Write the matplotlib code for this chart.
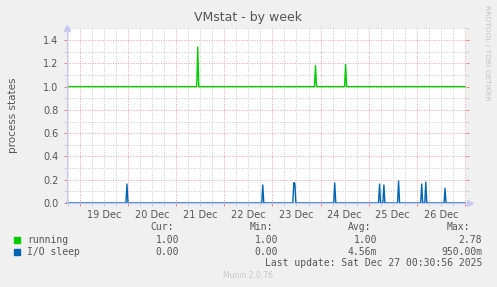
import matplotlib
matplotlib.use("Agg")
import matplotlib.pyplot as plt
from matplotlib.ticker import MultipleLocator, FixedLocator, NullFormatter

# x in days since 19 Dec 00:00
x_start = -0.265
x_end = 8.02
day_labels = ["19 Dec", "20 Dec", "21 Dec", "22 Dec", "23 Dec", "24 Dec", "25 Dec", "26 Dec"]

# spikes: (start day, consecutive samples)
running_base = 1.0
running_spikes = [(2.45, [1.34]), (4.895, [1.18]), (5.52, [1.19])]

io_base = 0.0
io_spikes = [(0.98, [0.163]), (3.8, [0.155]), (4.445, [0.175, 0.169]),
             (5.295, [0.172]), (6.225, [0.163]), (6.315, [0.155]),
             (6.62, [0.189]), (7.1, [0.163]), (7.185, [0.180]),
             (7.585, [0.126])]

legend_names = ["running", "I/O sleep"]
legend_colors = ["#00CC00", "#0066B3"]
cur_vals = ["1.00", "0.00"]
min_vals = ["1.00", "0.00"]
avg_vals = ["1.00", "4.56m"]
max_vals = ["2.78", "950.00m"]

step = 0.021  # ~30 min samples


def build(base, spikes):
    xs, ys = [x_start], [base]
    for t0, vals in spikes:
        xs.append(t0 - step)
        ys.append(base)
        for i, v in enumerate(vals):
            xs.append(t0 + i * step)
            ys.append(v)
        xs.append(t0 + len(vals) * step)
        ys.append(base)
    xs.append(8.0)
    ys.append(base)
    return xs, ys


W, H = 497, 287
fig = plt.figure(figsize=(W / 100, H / 100), dpi=100, facecolor="#F0F0F0")
ax = fig.add_axes([67 / W, 1 - 203 / H, (466 - 67) / W, (203 - 28.4) / H])
ax.set_facecolor("white")

ax.set_xlim(x_start, x_end)
ax.set_ylim(0, 1.5)

ax.xaxis.set_major_locator(FixedLocator(range(0, 9)))
ax.xaxis.set_minor_locator(MultipleLocator(0.25))
ax.xaxis.set_major_formatter(NullFormatter())
ax.yaxis.set_minor_locator(MultipleLocator(0.1))
ax.set_yticks([0.0, 0.2, 0.4, 0.6, 0.8, 1.0, 1.2, 1.4])
ax.set_yticklabels(["0.0", "0.2", "0.4", "0.6", "0.8", "1.0", "1.2", "1.4"])

ax.grid(which="minor", color="#C8C8C8", linestyle=(0, (1, 1.6)), linewidth=0.7)
ax.grid(which="major", color="#F0A0A0", linestyle=(0, (1, 1.6)), linewidth=0.7)
ax.set_axisbelow(True)

ax.tick_params(which="major", length=2, width=0.7, color="#F08080",
               labelsize=7, labelcolor="#555555", pad=4)
ax.tick_params(which="minor", length=2, width=0.6, color="#C8C8C8")
ax.tick_params(axis="y", which="both", right=True)

for s in ["top", "right"]:
    ax.spines[s].set_visible(False)
ax.spines["left"].set_color("#C8C8F0")
ax.spines["bottom"].set_color("#C8C8F0")
ax.spines["left"].set_linewidth(0.8)
ax.spines["bottom"].set_linewidth(0.8)
ax.plot([0], [1.0], marker="^", color="#C8C8F0", markersize=5, transform=ax.transAxes,
        clip_on=False)
ax.plot([1.01], [0], marker=">", color="#C8C8F0", markersize=5, transform=ax.transAxes,
        clip_on=False)

sec = ax.secondary_xaxis("bottom")
sec.set_xticks([i + 0.5 for i in range(len(day_labels))])
sec.set_xticklabels(day_labels)
sec.tick_params(length=0, labelsize=7, labelcolor="#555555", pad=5)
sec.spines["bottom"].set_visible(False)

xs, ys = build(running_base, running_spikes)
ax.plot(xs, ys, color=legend_colors[0], linewidth=1.0)
xs, ys = build(io_base, io_spikes)
ax.plot(xs, ys, color=legend_colors[1], linewidth=1.0, clip_on=False)

ax.set_ylabel("process states", fontsize=7.5, color="#555555")
ax.yaxis.set_label_coords((18 - 67) / 399, 0.5)
fig.text(248 / W, 1 - 17 / H, "VMstat - by week", ha="center", va="center",
         fontsize=9, color="#555555")
fig.text(487 / W, 1 - 53 / H, "RRDTOOL / TOBI OETIKER", rotation=270,
         ha="center", va="center", fontsize=5.4, color="#C4C4C4")


def px(x, y, s, **kw):
    fig.text(x / W, 1 - y / H, s, va="center", family="DejaVu Sans Mono",
             fontsize=7, color="#555555", **kw)


px(150, 227, "Cur:")
px(250, 227, "Min:")
px(348, 227, "Avg:")
px(447, 227, "Max:")
for i, name in enumerate(legend_names):
    y = 240 + i * 12
    fig.patches.append(plt.Rectangle((14 / W, 1 - (y + 3) / H), 6 / W, 6 / H,
                                     transform=fig.transFigure, color=legend_colors[i]))
    px(27, y, name)
    px(179, y, cur_vals[i], ha="right")
    px(278, y, min_vals[i], ha="right")
    px(377, y, avg_vals[i], ha="right")
    px(482, y, max_vals[i], ha="right")
px(482, 263, "Last update: Sat Dec 27 00:30:56 2025", ha="right")
fig.text(248 / W, 1 - 276 / H, "Munin 2.0.76", ha="center", va="center",
         fontsize=5.5, color="#C8C8C8")

fig.savefig("out.png", dpi=100, facecolor=fig.get_facecolor())
